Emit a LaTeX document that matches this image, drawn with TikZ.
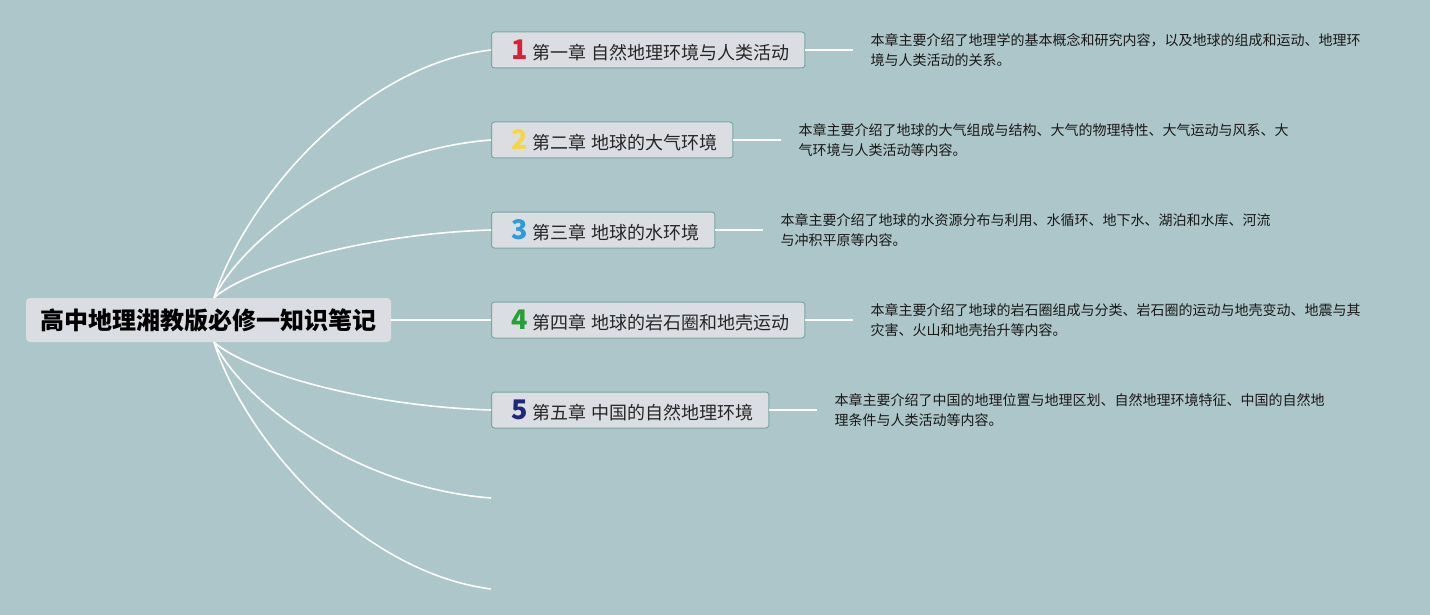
\documentclass[tikz,border=0pt]{standalone}
\usepackage{fontspec}
\setmainfont{Noto Sans CJK SC}
\usepackage{xcolor}
\usetikzlibrary{positioning}

\definecolor{bgteal}{RGB}{172,198,201}
\definecolor{boxgray}{RGB}{218,222,226}
\definecolor{boxedge}{RGB}{122,166,162}
\definecolor{numred}{RGB}{218,32,52}
\definecolor{numyellow}{RGB}{244,214,72}
\definecolor{numblue}{RGB}{44,156,220}
\definecolor{numgreen}{RGB}{36,160,52}
\definecolor{numnavy}{RGB}{30,40,120}

\newcommand{\chapnum}[2]{\makebox[26pt][c]{\fontsize{27pt}{27pt}\selectfont\bfseries\textcolor{#1}{#2}}}

\begin{document}
\begin{tikzpicture}[
  x=1pt, y=-1pt,
  root/.style={rectangle, fill=boxgray, rounded corners=4pt,
               minimum width=365pt, minimum height=44pt, inner sep=0pt,
               font=\fontsize{24pt}{26pt}\selectfont\bfseries, text=black},
  chapter/.style={rectangle, draw=boxedge, fill=boxgray, rounded corners=3pt,
                  line width=1pt, anchor=west, minimum height=36pt,
                  inner xsep=15pt, inner ysep=0pt,
                  font=\fontsize{18pt}{20pt}\selectfont, text=black!85},
  desc/.style={align=left, inner xsep=17pt, inner ysep=0pt,
               font=\fontsize{14pt}{20pt}\selectfont, text=black!90},
  branch/.style={draw=white, line width=1.6pt},
  link/.style={draw=white, line width=1.3pt}
]

\fill[bgteal] (0,0) rectangle (1430,615);
\useasboundingbox (0,0) rectangle (1430,615);

% ----- root -----
\node[root] (root) at (208.5,320) {高中地理湘教版必修一知识笔记};
\coordinate (hub) at (214,320);

% ----- chapters -----
\node[chapter] (c1) at (491,50)  {\chapnum{numred}{1}第一章\hspace{0.3em}自然地理环境与人类活动};
\node[chapter] (c2) at (491,140) {\chapnum{numyellow}{2}第二章\hspace{0.3em}地球的大气环境};
\node[chapter] (c3) at (491,230) {\chapnum{numblue}{3}第三章\hspace{0.3em}地球的水环境};
\node[chapter] (c4) at (491,320) {\chapnum{numgreen}{4}第四章\hspace{0.3em}地球的岩石圈和地壳运动};
\node[chapter] (c5) at (491,410) {\chapnum{numnavy}{5}第五章\hspace{0.3em}中国的自然地理环境};

% empty branch ends
\coordinate (e1) at (491,498);
\coordinate (e2) at (491,589);

% ----- summaries -----
\node[desc, right=48pt of c1] (d1)
  {本章主要介绍了地理学的基本概念和研究内容，以及地球的组成和运动、地理环\\
   境与人类活动的关系。};
\node[desc, right=48pt of c2] (d2)
  {本章主要介绍了地球的大气组成与结构、大气的物理特性、大气运动与风系、大\\
   气环境与人类活动等内容。};
\node[desc, right=48pt of c3] (d3)
  {本章主要介绍了地球的水资源分布与利用、水循环、地下水、湖泊和水库、河流\\
   与冲积平原等内容。};
\node[desc, right=48pt of c4] (d4)
  {本章主要介绍了地球的岩石圈组成与分类、岩石圈的运动与地壳变动、地震与其\\
   灾害、火山和地壳抬升等内容。};
\node[desc, right=48pt of c5] (d5)
  {本章主要介绍了中国的地理位置与地理区划、自然地理环境特征、中国的自然地\\
   理条件与人类活动等内容。};

% ----- branches -----
\draw[branch] (root.north -| hub) .. controls (245,200) and (360,65)  .. (c1.west);
\draw[branch] (root.north -| hub) .. controls (245,235) and (360,150) .. (c2.west);
\draw[branch] (root.north -| hub) .. controls (245,270) and (360,234) .. (c3.west);
\draw[branch] (root.east) -- (c4.west);
\draw[branch] (root.south -| hub) .. controls (245,370) and (360,406) .. (c5.west);
\draw[branch] (root.south -| hub) .. controls (245,405) and (360,488) .. (e1);
\draw[branch] (root.south -| hub) .. controls (245,440) and (360,572) .. (e2);

\draw[link] (c1) -- (d1);
\draw[link] (c2) -- (d2);
\draw[link] (c3) -- (d3);
\draw[link] (c4) -- (d4);
\draw[link] (c5) -- (d5);

\end{tikzpicture}
\end{document}
